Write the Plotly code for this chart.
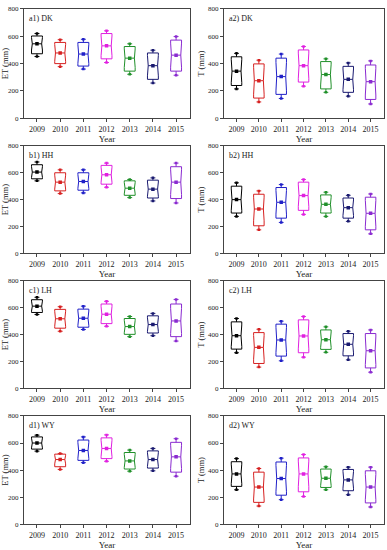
import plotly.graph_objects as go

years = ["2009", "2010", "2011", "2012", "2013", "2014", "2015"]
colors = ["#000000", "#d62020", "#2020c8", "#e020e0", "#20902a", "#1a1a70", "#8a2ad0"]
y_ticks = [0, 200, 400, 600, 800]

# a1) DK  ET
dk_et_max = [620, 575, 578, 640, 545, 498, 598]
dk_et_q3 = [602, 555, 555, 620, 525, 478, 572]
dk_et_med = [545, 478, 470, 530, 440, 385, 462]
dk_et_q1 = [472, 400, 382, 435, 345, 285, 345]
dk_et_min = [452, 378, 360, 408, 322, 258, 315]
# a2) DK  T
dk_t_max = [475, 425, 470, 525, 435, 405, 420]
dk_t_q3 = [450, 398, 440, 500, 415, 380, 390]
dk_t_med = [345, 275, 305, 385, 320, 285, 268]
dk_t_q1 = [240, 148, 175, 265, 215, 190, 138]
dk_t_min = [215, 120, 145, 235, 190, 162, 105]
# b1) HH  ET
hh_et_max = [680, 622, 622, 672, 550, 562, 672]
hh_et_q3 = [660, 600, 600, 655, 540, 545, 645]
hh_et_med = [605, 530, 535, 585, 485, 478, 530]
hh_et_q1 = [555, 465, 470, 515, 432, 412, 408]
hh_et_min = [540, 445, 450, 492, 415, 390, 375]
# b2) HH  T
hh_t_max = [525, 465, 512, 550, 455, 432, 442]
hh_t_q3 = [500, 440, 490, 530, 435, 412, 418]
hh_t_med = [400, 330, 380, 430, 365, 340, 298]
hh_t_q1 = [300, 205, 262, 320, 300, 262, 175]
hh_t_min = [275, 175, 230, 290, 275, 238, 145]
# c1) LH  ET
lh_et_max = [678, 608, 612, 648, 535, 558, 662]
lh_et_q3 = [660, 588, 590, 628, 520, 540, 628]
lh_et_med = [612, 518, 522, 552, 460, 475, 502]
lh_et_q1 = [565, 448, 455, 482, 402, 412, 385]
lh_et_min = [550, 425, 438, 462, 385, 392, 352]
# c2) LH  T
lh_t_max = [520, 440, 500, 535, 458, 425, 435]
lh_t_q3 = [495, 415, 478, 510, 435, 408, 408]
lh_t_med = [392, 305, 360, 390, 362, 328, 280]
lh_t_q1 = [292, 185, 240, 265, 290, 242, 152]
lh_t_min = [265, 158, 205, 232, 268, 212, 120]
# d1) WY  ET
wy_et_max = [658, 522, 645, 660, 548, 560, 632]
wy_et_q3 = [645, 518, 622, 638, 530, 542, 605]
wy_et_med = [600, 478, 545, 560, 468, 478, 498]
wy_et_q1 = [555, 425, 472, 485, 408, 415, 385]
wy_et_min = [540, 405, 455, 465, 392, 395, 355]
# d2) WY  T
wy_t_max = [485, 412, 488, 515, 425, 422, 422]
wy_t_q3 = [462, 385, 460, 490, 408, 405, 395]
wy_t_med = [372, 275, 338, 372, 340, 328, 275]
wy_t_q1 = [280, 162, 215, 240, 272, 248, 158]
wy_t_min = [255, 135, 182, 205, 255, 218, 128]

panels = [
    ("a1) DK", "ET (mm)", dk_et_min, dk_et_q1, dk_et_med, dk_et_q3, dk_et_max),
    ("a2) DK", "T (mm)", dk_t_min, dk_t_q1, dk_t_med, dk_t_q3, dk_t_max),
    ("b1) HH", "ET (mm)", hh_et_min, hh_et_q1, hh_et_med, hh_et_q3, hh_et_max),
    ("b2) HH", "T (mm)", hh_t_min, hh_t_q1, hh_t_med, hh_t_q3, hh_t_max),
    ("c1) LH", "ET (mm)", lh_et_min, lh_et_q1, lh_et_med, lh_et_q3, lh_et_max),
    ("c2) LH", "T (mm)", lh_t_min, lh_t_q1, lh_t_med, lh_t_q3, lh_t_max),
    ("d1) WY", "ET (mm)", wy_et_min, wy_et_q1, wy_et_med, wy_et_q3, wy_et_max),
    ("d2) WY", "T (mm)", wy_t_min, wy_t_q1, wy_t_med, wy_t_q3, wy_t_max),
]

W, H = 387, 550
col_px = [(24, 190), (224, 384)]
row_px = [(5, 116), (144, 253), (281, 390), (418, 528)]
FONT = "Liberation Serif"

fig = go.Figure()
layout = dict(
    width=W, height=H, margin=dict(l=0, r=0, t=0, b=0),
    paper_bgcolor="white", plot_bgcolor="white", showlegend=False,
    font=dict(family=FONT, size=8, color="#222"),
    annotations=[],
)

for i, (label, ytitle, mn, q1, med, q3, mx) in enumerate(panels):
    r, c = divmod(i, 2)
    n = i + 1
    xa = "x" if n == 1 else f"x{n}"
    ya = "y" if n == 1 else f"y{n}"
    x0, x1 = col_px[c]
    yt, yb = row_px[r]
    xd = [x0 / W, x1 / W]
    yd = [1 - yb / H, 1 - yt / H]
    for j, yr in enumerate(years):
        span = 0.8 * min(q3[j] - med[j], med[j] - q1[j])
        fig.add_trace(go.Box(
            x=[yr], q1=[q1[j]], median=[med[j]], q3=[q3[j]],
            lowerfence=[mn[j]], upperfence=[mx[j]],
            notched=True, notchspan=[span], notchwidth=0.07,
            width=0.47, whiskerwidth=0.45,
            line=dict(color=colors[j], width=1),
            fillcolor="rgba(0,0,0,0)", boxpoints=False,
            xaxis=xa, yaxis=ya, hoverinfo="skip",
        ))
    # mean markers
    fig.add_trace(go.Scatter(
        x=years, y=med, mode="markers",
        marker=dict(symbol="square", size=3.5, color=colors),
        xaxis=xa, yaxis=ya, hoverinfo="skip",
    ))
    # whisker end markers
    fig.add_trace(go.Scatter(
        x=years + years, y=list(mx) + list(mn), mode="markers",
        marker=dict(symbol="square", size=2.5, color=colors + colors),
        xaxis=xa, yaxis=ya, hoverinfo="skip",
    ))
    xkey = "xaxis" if n == 1 else f"xaxis{n}"
    ykey = "yaxis" if n == 1 else f"yaxis{n}"
    layout[xkey] = dict(
        domain=xd, anchor=ya, type="category", categoryorder="array",
        categoryarray=years, range=[-0.56, 6.6],
        showline=True, linecolor="#444", linewidth=1, mirror=True,
        ticks="outside", ticklen=3, tickcolor="#444", showgrid=False,
        tickfont=dict(family=FONT, size=8, color="#222"),
        title=dict(text="Year", font=dict(family=FONT, size=9, color="#222"), standoff=1),
    )
    layout[ykey] = dict(
        domain=yd, anchor=xa, range=[0, 800], tickvals=y_ticks,
        showline=True, linecolor="#444", linewidth=1, mirror=True,
        ticks="outside", ticklen=3, tickcolor="#444", showgrid=False, zeroline=False,
        tickfont=dict(family=FONT, size=7, color="#222"),
        title=dict(text=ytitle, font=dict(family=FONT, size=8.5, color="#222"), standoff=2),
    )
    layout["annotations"].append(dict(
        text=label, xref="paper", yref="paper",
        x=(x0 + 3) / W, y=1 - (yt + 3) / H, xanchor="left", yanchor="top",
        showarrow=False, font=dict(family=FONT, size=8, color="#222"),
    ))

fig.update_layout(**layout)
fig.write_html(
    "out.html",
    config={"displayModeBar": False, "staticPlot": True},
    post_script="document.body.style.margin='0';document.body.style.padding='0';",
)
